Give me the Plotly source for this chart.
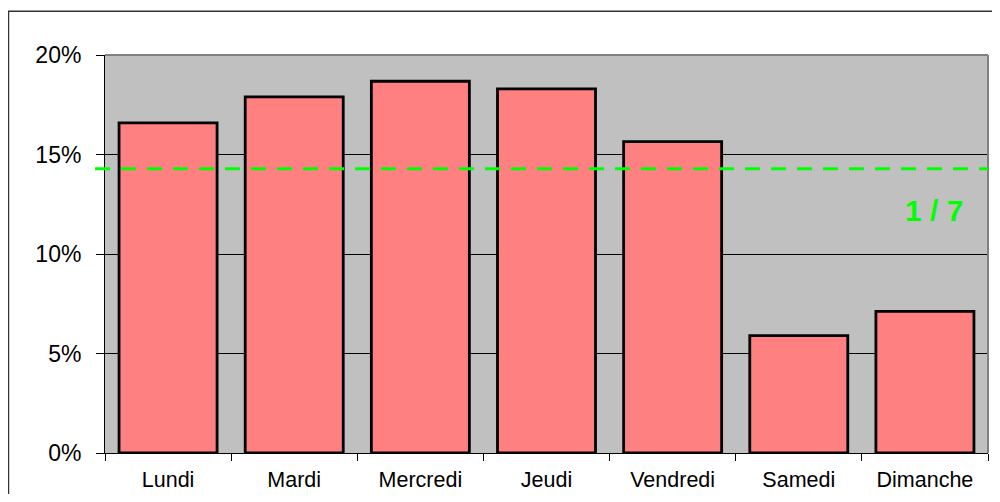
import plotly.graph_objects as go

days = ["Lundi", "Mardi", "Mercredi", "Jeudi", "Vendredi", "Samedi", "Dimanche"]
shares = [0.1659, 0.1790, 0.1868, 0.1830, 0.1565, 0.0590, 0.0712]
reference_value = 1 / 7
reference_label = "1 / 7"
y_ticks = [0, 0.05, 0.10, 0.15, 0.20]

FONT = "Liberation Sans, Arial, sans-serif"

fig = go.Figure()
fig.add_trace(go.Bar(
    x=days, y=shares,
    marker=dict(color="#FF8080", line=dict(color="black", width=2.8)),
    hoverinfo="x+y",
))

# page body has an 8px margin: figure kept small enough to avoid scrollbars
fig.update_layout(
    width=984, height=486,
    margin=dict(l=97, r=4, t=47, b=40.5, pad=0),
    paper_bgcolor="white",
    plot_bgcolor="#C0C0C0",
    bargap=0.223,
    showlegend=False,
    font=dict(family=FONT, color="black"),
)

fig.update_xaxes(
    type="category",
    tickson="boundaries",
    ticks="outside", ticklen=7, tickcolor="black", tickwidth=1,
    showline=True, linecolor="black", linewidth=1,
    showgrid=False,
    automargin=False,
    tickfont=dict(size=21.5, family=FONT, color="black"),
    ticklabelstandoff=7,
)
fig.update_yaxes(
    range=[0, 0.2],
    tickvals=y_ticks,
    tickformat=".0%",
    ticks="outside", ticklen=8, tickcolor="black", tickwidth=1,
    showline=True, linecolor="black", linewidth=1,
    showgrid=True, gridcolor="black", gridwidth=1,
    zeroline=False,
    automargin=False,
    tickfont=dict(size=23, family=FONT, color="black"),
    ticklabelstandoff=10,
)

# grey border of plot area (top and right)
fig.add_shape(type="line", xref="paper", yref="paper", x0=0, x1=1, y0=1, y1=1,
              line=dict(color="#808080", width=2), layer="above")
fig.add_shape(type="line", xref="paper", yref="paper", x0=1, x1=1, y0=0, y1=1,
              line=dict(color="#808080", width=2), layer="above")

# reference line 1/7
fig.add_shape(type="line", xref="paper", yref="y", x0=-0.0113, x1=1,
              y0=reference_value, y1=reference_value,
              line=dict(color="#00FF00", width=3, dash="15px,11px"), layer="above")
fig.add_annotation(xref="paper", yref="paper", x=0.939, y=0.61,
                   text=f"<b>{reference_label}</b>", showarrow=False,
                   font=dict(size=30, color="#00FF00", family=FONT),
                   xanchor="center", yanchor="middle")

# outer chart frame (right and bottom edges fall outside the view)
fig.add_shape(type="rect", xref="paper", yref="paper",
              x0=-0.1093, x1=1.05, y0=-0.2, y1=1.110,
              line=dict(color="#333333", width=1.5), fillcolor="rgba(0,0,0,0)",
              layer="above")

fig.write_html("out.html")
